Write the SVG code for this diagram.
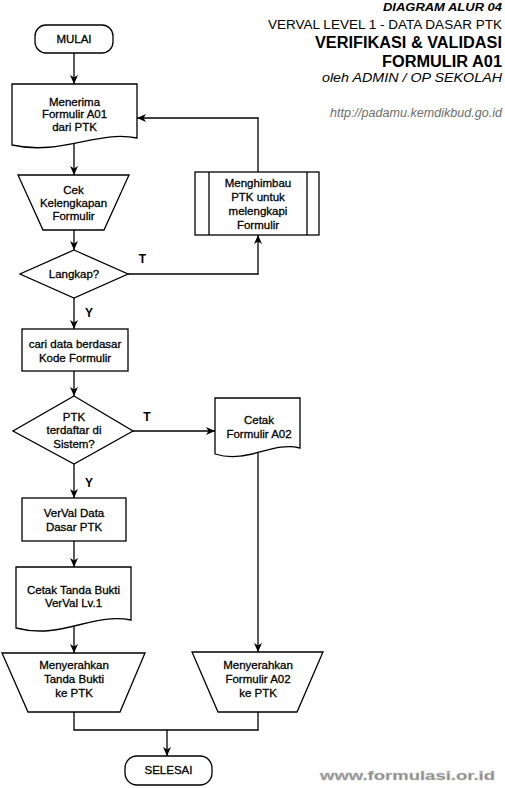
<svg xmlns="http://www.w3.org/2000/svg" width="505" height="788" viewBox="0 0 505 788">
<defs>
<style>
.s{fill:#fff;stroke:#000;stroke-width:1.3}
.c{fill:none;stroke:#000;stroke-width:1.3}
.t{font-family:"Liberation Sans","Arial",sans-serif;font-size:11.5px;fill:#000;stroke:#000;stroke-width:0.3;text-anchor:middle}
.lb{font-family:"Liberation Sans","Arial",sans-serif;font-size:12px;font-weight:bold;fill:#000;text-anchor:middle}
.h{font-family:"Liberation Sans","Arial",sans-serif;fill:#000}
</style>
<marker id="ar" viewBox="0 0 9 8" refX="9" refY="4" markerWidth="9" markerHeight="8" markerUnits="userSpaceOnUse" orient="auto">
<path d="M0,0 L9,4 L0,8 L2.5,4 Z" fill="#000"/>
</marker>
</defs>
<rect width="505" height="788" fill="#fff"/>

<g id="header">
<text class="h" x="383" y="10.7" font-size="10.5" font-weight="bold" font-style="italic" textLength="119" lengthAdjust="spacingAndGlyphs">DIAGRAM ALUR 04</text>
<text class="h" x="268" y="29" font-size="12" textLength="234" lengthAdjust="spacingAndGlyphs">VERVAL LEVEL 1 - DATA DASAR PTK</text>
<text class="h" x="315" y="48" font-size="16" font-weight="bold" textLength="187" lengthAdjust="spacingAndGlyphs">VERIFIKASI &amp; VALIDASI</text>
<text class="h" x="382" y="66.5" font-size="16" font-weight="bold" textLength="120" lengthAdjust="spacingAndGlyphs">FORMULIR A01</text>
<text class="h" x="322" y="82" font-size="12.5" font-style="italic" textLength="180" lengthAdjust="spacingAndGlyphs">oleh ADMIN / OP SEKOLAH</text>
<text class="h" x="330" y="117" font-size="12.5" font-style="italic" style="fill:#6e6e6e" textLength="172" lengthAdjust="spacingAndGlyphs">http://padamu.kemdikbud.go.id</text>
</g>

<g id="connectors">
<line class="c" x1="74" y1="53" x2="74" y2="84" marker-end="url(#ar)"/>
<line class="c" x1="74" y1="143" x2="74" y2="175" marker-end="url(#ar)"/>
<line class="c" x1="74" y1="230" x2="74" y2="250" marker-end="url(#ar)"/>
<polyline class="c" points="128,274 258,274 258,235" marker-end="url(#ar)"/>
<polyline class="c" points="258,172 258,118 137,118" marker-end="url(#ar)"/>
<line class="c" x1="74" y1="298" x2="74" y2="329" marker-end="url(#ar)"/>
<line class="c" x1="74" y1="371" x2="74" y2="396" marker-end="url(#ar)"/>
<line class="c" x1="133" y1="431" x2="215" y2="431" marker-end="url(#ar)"/>
<line class="c" x1="74" y1="464" x2="74" y2="498" marker-end="url(#ar)"/>
<line class="c" x1="74" y1="541" x2="74" y2="567" marker-end="url(#ar)"/>
<line class="c" x1="74" y1="627" x2="74" y2="653" marker-end="url(#ar)"/>
<line class="c" x1="258" y1="453" x2="258" y2="652" marker-end="url(#ar)"/>
<polyline class="c" points="74,712 74,730 258,730 258,712"/>
<line class="c" x1="167" y1="730" x2="167" y2="756" marker-end="url(#ar)"/>
<text class="lb" x="142.5" y="263">T</text>
<text class="lb" x="89" y="317">Y</text>
<text class="lb" x="147" y="421">T</text>
<text class="lb" x="89" y="487">Y</text>
</g>

<g id="mulai">
<rect class="s" x="35" y="25" width="78" height="28" rx="11"/>
<text class="t" x="74" y="43">MULAI</text>
</g>

<g id="menerima">
<path class="s" d="M12,84 H137 V138 C96,130 62,156 12,145 Z"/>
<text class="t" x="74.5" y="105.5">Menerima</text>
<text class="t" x="74.5" y="118">Formulir A01</text>
<text class="t" x="74.5" y="130.5">dari PTK</text>
</g>

<g id="cek">
<polygon class="s" points="18,175 129,175 104,230 43,230"/>
<text class="t" x="73.5" y="193.5">Cek</text>
<text class="t" x="73.5" y="206.5">Kelengkapan</text>
<text class="t" x="73.5" y="219.5">Formulir</text>
</g>

<g id="langkap">
<polygon class="s" points="74,250 128,274 74,298 20,274"/>
<text class="t" x="74" y="278">Langkap?</text>
</g>

<g id="menghimbau">
<rect class="s" x="195" y="172" width="124" height="63"/>
<line class="c" x1="209" y1="172" x2="209" y2="235"/>
<line class="c" x1="307" y1="172" x2="307" y2="235"/>
<text class="t" x="258" y="187">Menghimbau</text>
<text class="t" x="258" y="201">PTK untuk</text>
<text class="t" x="258" y="215">melengkapi</text>
<text class="t" x="258" y="229">Formulir</text>
</g>

<g id="cari">
<rect class="s" x="22" y="329" width="106" height="42"/>
<text class="t" x="75" y="347.5">cari data berdasar</text>
<text class="t" x="75" y="361.5">Kode Formulir</text>
</g>

<g id="ptk">
<polygon class="s" points="74,396 133,431 74,464 13,431"/>
<text class="t" x="74" y="421">PTK</text>
<text class="t" x="74" y="434">terdaftar di</text>
<text class="t" x="74" y="447.5">Sistem?</text>
</g>

<g id="cetak-a02">
<path class="s" d="M215,398 H300 V448 C272,441 248,464 215,454 Z"/>
<text class="t" x="259" y="423.5">Cetak</text>
<text class="t" x="259" y="437.5">Formulir A02</text>
</g>

<g id="verval">
<rect class="s" x="22" y="498" width="104" height="43"/>
<text class="t" x="74" y="516.5">VerVal Data</text>
<text class="t" x="74" y="530.5">Dasar PTK</text>
</g>

<g id="cetak-bukti">
<path class="s" d="M16,567 H131 V620 C93,612 62,640 16,628 Z"/>
<text class="t" x="73.5" y="593.5">Cetak Tanda Bukti</text>
<text class="t" x="73.5" y="606.5">VerVal Lv.1</text>
</g>

<g id="serah-bukti">
<polygon class="s" points="2,653 145,653 120,712 28,712"/>
<text class="t" x="74" y="668.5">Menyerahkan</text>
<text class="t" x="74" y="683">Tanda Bukti</text>
<text class="t" x="74" y="697">ke PTK</text>
</g>

<g id="serah-a02">
<polygon class="s" points="192,652 323,652 297,712 218,712"/>
<text class="t" x="258" y="668.5">Menyerahkan</text>
<text class="t" x="258" y="683">Formulir A02</text>
<text class="t" x="258" y="697">ke PTK</text>
</g>

<g id="selesai">
<rect class="s" x="125" y="756" width="87" height="29" rx="12"/>
<text class="t" x="168.5" y="774">SELESAI</text>
</g>

<g id="watermark">
<text x="320" y="780" font-family="Liberation Sans, Arial, sans-serif" font-size="13.5" font-weight="bold" fill="#8c8c8c" stroke="#bdbdbd" stroke-width="0.4" textLength="175" lengthAdjust="spacingAndGlyphs">www.formulasi.or.id</text>
</g>
</svg>
